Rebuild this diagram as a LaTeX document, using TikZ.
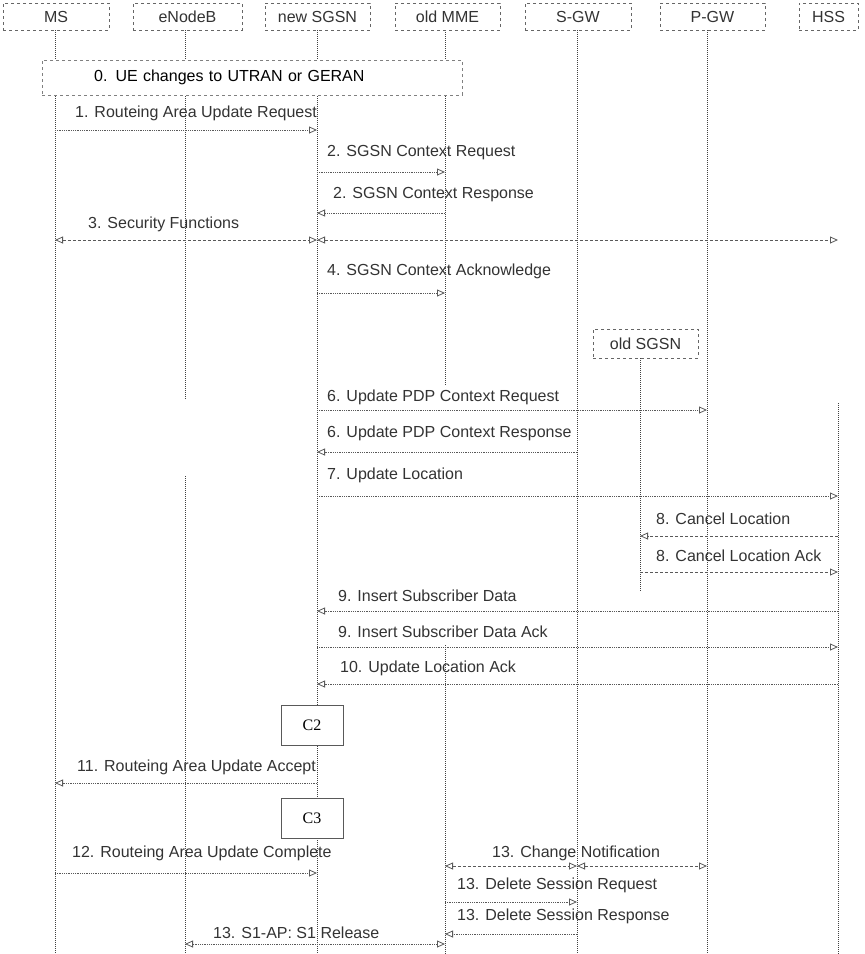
\documentclass[tikz,border=0pt]{standalone}
\usepackage{fontspec}
\setmainfont{Liberation Sans}
\newfontfamily\cfont{Liberation Serif}
\usetikzlibrary{arrows.meta}

\begin{document}
\begin{tikzpicture}[x=1pt, y=-1pt,
    head/.style={draw=gray!80!black, dashed, fill=white, minimum height=27pt, inner sep=0pt, text=black!80, font=\fontsize{16}{18}\selectfont},
    life/.style={densely dotted, gray!50!black, line width=1pt},
    msg/.style={densely dotted, gray!70!black, line width=0.8pt, -{Triangle[open, length=8pt, width=7pt]}},
    msgb/.style={msg, {Triangle[open, length=8pt, width=7pt]}-{Triangle[open, length=8pt, width=7pt]}},
    dsh/.style={dash pattern=on 3pt off 2pt},
    lbl/.style={anchor=west, inner sep=0pt, text=black!80, font=\fontsize{16}{18}\selectfont},
    cbox/.style={draw=gray!70!black, thick, fill=white, minimum width=62pt, minimum height=40pt, font=\cfont\fontsize{16}{18}\selectfont}]
    \useasboundingbox (0,0) rectangle (865,954);

    % Lifeline positions
    \coordinate (ms) at (55,30);
    \coordinate (enb) at (185,30);
    \coordinate (nsgsn) at (317,30);
    \coordinate (omme) at (445,30);
    \coordinate (sgw) at (577,30);
    \coordinate (pgw) at (707,30);
    \coordinate (hss) at (838,30);
    \coordinate (bottom) at (0,954);

    % Draw the lifelines
    \draw[life] (sgw) -- (sgw |- bottom);
    \draw[life] (pgw) -- (pgw |- bottom);
    \draw[life] (hss |- 0,403) -- (hss |- bottom);
    \draw[life] (ms) -- (ms |- bottom);
    \draw[life] (enb) -- (enb |- 0,400) (enb |- 0,476) -- (enb |- bottom);
    \draw[life] (nsgsn) -- (nsgsn |- bottom);
    \draw[life] (omme) -- (omme |- 0,385) (omme |- 0,645) -- (omme |- bottom);

    % Header boxes
    \node[head, minimum width=106pt] (ms-h) at (56,16.5) {MS};
    \node[head, minimum width=109pt] (enb-h) at (187.5,16.5) {eNodeB};
    \node[head, minimum width=105pt] (nsgsn-h) at (317.5,16.5) {new SGSN};
    \node[head, minimum width=105pt] (omme-h) at (447.5,16.5) {old MME};
    \node[head, minimum width=106pt] (sgw-h) at (578,16.5) {S-GW};
    \node[head, minimum width=105pt] (pgw-h) at (712.5,16.5) {P-GW};
    \node[head, minimum width=59pt] (hss-h) at (828.5,16.5) {HSS};

    % Step 0 covers the first four lifelines
    \node[draw=gray, dashed, fill=white, anchor=north west, minimum height=35pt, text width=316pt, inner xsep=52pt, inner ysep=0pt, align=left, font=\fontsize{16}{18}\selectfont] (ue) at (42,60) {0. UE changes to UTRAN or GERAN};

    % old SGSN joins later
    \node[head, minimum width=105pt, minimum height=29pt] (osgsn-h) at (645.5,343.5) {old SGSN};
    \coordinate (osgsn) at (640,358);
    \draw[life] (osgsn) -- (osgsn |- 0,592);

    % Messages 1 to 4
    \node[lbl] (l1) at (75,113) {1. Routeing Area Update Request};
    \draw[msg] (ms |- 0,130) -- (nsgsn |- 0,130);
    \node[lbl] (l2a) at (327,153) {2. SGSN Context Request};
    \draw[msg] (nsgsn |- 0,172) -- (omme |- 0,172);
    \node[lbl] (l2b) at (333,195) {2. SGSN Context Response};
    \draw[msg] (omme |- 0,213) -- (nsgsn |- 0,213);
    \node[lbl] (l3) at (88,224) {3. Security Functions};
    \draw[msgb, dsh] (ms |- 0,240) -- (nsgsn |- 0,240);
    \draw[msgb, dsh] (nsgsn |- 0,240) -- (hss |- 0,240);
    \node[lbl] (l4) at (327,271) {4. SGSN Context Acknowledge};
    \draw[msg] (nsgsn |- 0,293) -- (omme |- 0,293);

    % Messages 6 to 10
    \node[lbl] (l6a) at (327,397) {6. Update PDP Context Request};
    \draw[msg] (nsgsn |- 0,410) -- (pgw |- 0,410);
    \node[lbl] (l6b) at (327,433) {6. Update PDP Context Response};
    \draw[msg] (sgw |- 0,452) -- (nsgsn |- 0,452);
    \node[lbl] (l7) at (327,475) {7. Update Location};
    \draw[msg] (nsgsn |- 0,496) -- (hss |- 0,496);
    \node[lbl] (l8a) at (656,519) {8. Cancel Location};
    \draw[msg, dsh] (hss |- 0,536) -- (osgsn |- 0,536);
    \node[lbl] (l8b) at (656,556) {8. Cancel Location Ack};
    \draw[msg, dsh] (osgsn |- 0,572) -- (hss |- 0,572);
    \node[lbl] (l9a) at (338,596) {9. Insert Subscriber Data};
    \draw[msg] (hss |- 0,611) -- (nsgsn |- 0,611);
    \node[lbl] (l9b) at (338,632) {9. Insert Subscriber Data Ack};
    \draw[msg] (nsgsn |- 0,647) -- (hss |- 0,647);
    \node[lbl] (l10) at (340,668) {10. Update Location Ack};
    \draw[msg] (hss |- 0,684) -- (nsgsn |- 0,684);

    % C2, C3 and messages 11 to 13
    \node[cbox] (c2) at (312,725) {C2};
    \node[lbl] (l11) at (77,767) {11. Routeing Area Update Accept};
    \draw[msg] (nsgsn |- 0,783) -- (ms |- 0,783);
    \node[cbox] (c3) at (312,818) {C3};
    \node[lbl] (l12) at (72,853) {12. Routeing Area Update Complete};
    \draw[msg] (ms |- 0,873) -- (nsgsn |- 0,873);
    \node[lbl] (l13cn) at (492,853) {13. Change Notification};
    \draw[msgb, dsh] (omme |- 0,866) -- (sgw |- 0,866);
    \draw[msgb, dsh] (sgw |- 0,866) -- (pgw |- 0,866);
    \node[lbl] (l13a) at (457,885) {13. Delete Session Request};
    \draw[msg] (omme |- 0,902) -- (sgw |- 0,902);
    \node[lbl] (l13b) at (457,916) {13. Delete Session Response};
    \draw[msg] (sgw |- 0,934) -- (omme |- 0,934);
    \node[lbl] (l13c) at (213,933) {13. S1-AP: S1 Release};
    \draw[msgb] (enb |- 0,944) -- (omme |- 0,944);
\end{tikzpicture}
\end{document}
